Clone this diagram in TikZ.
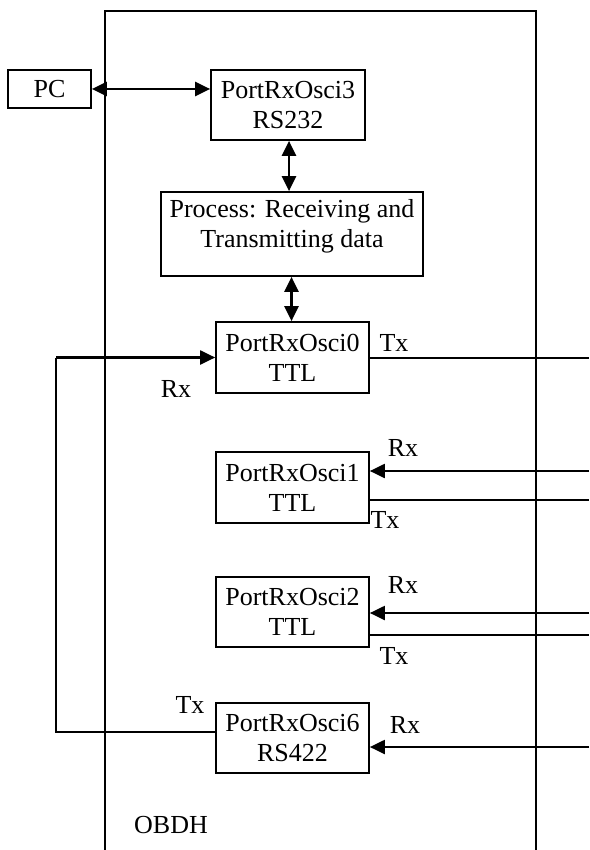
\documentclass[tikz,border=0pt]{standalone}
\usepackage{fontspec}
\setmainfont{Liberation Serif}
\usetikzlibrary{arrows.meta}
\begin{document}
\begin{tikzpicture}[x=1pt,y=-1pt,
  every node/.style={font=\fontsize{26}{30}\selectfont},
  box/.style={draw, line width=1.7pt, rectangle, inner sep=0pt, align=center},
  lbl/.style={inner sep=0pt},
  tip/.style={-{Triangle[length=15pt,width=14pt]}},
  bitip/.style={{Triangle[length=15pt,width=14pt]}-{Triangle[length=15pt,width=14pt]}},
  thick arrow/.style={line width=2.5pt},
  mid arrow/.style={line width=2.1pt},
  thin line/.style={line width=1.4pt}]
\useasboundingbox (0,0) rectangle (589,850);
% outer OBDH frame
\node[box, minimum width=431pt, minimum height=846pt, anchor=north west] (obdh) at (104,10) {};
\node[lbl] (obdhlbl) at (171,825) {OBDH};
% boxes
\node[box, minimum width=83pt, minimum height=38pt] (pc) at (49.5,89) {PC};
\node[box, minimum width=154pt, minimum height=70pt] (p3) at (288,105) {PortRxOsci3\\RS232};
\node[box, minimum width=262pt, minimum height=84pt] (proc) at (292,234) {};
\node[lbl, align=center] (proctext) at (292,226) {Process: Receiving and\\Transmitting data};
\node[box, minimum width=153pt, minimum height=71pt] (p0) at (292.5,357.5) {PortRxOsci0\\TTL};
\node[box, minimum width=153pt, minimum height=71pt] (p1) at (292.5,487.5) {PortRxOsci1\\TTL};
\node[box, minimum width=153pt, minimum height=70pt] (p2) at (292.5,612) {PortRxOsci2\\TTL};
\node[box, minimum width=153pt, minimum height=70pt] (p6) at (292.5,738) {PortRxOsci6\\RS422};
% right-edge coordinates
\coordinate (e0) at (589,358);
\coordinate (e1r) at (589,471);
\coordinate (e1t) at (589,500);
\coordinate (e2r) at (589,613);
\coordinate (e2t) at (589,635);
\coordinate (e6r) at (589,747);
\coordinate (lb) at (56,732);
\coordinate (lt) at (56,357.5);
% connectors
\draw[bitip, thick arrow] (pc.east) -- (p3.west |- pc.east);
\draw[bitip, thick arrow] (p3.south -| 289,0) -- (proc.north -| 289,0);
\draw[bitip, thick arrow] (proc.south -| 291.5,0) -- (p0.north -| 291.5,0);
\draw[thin line] (p6.west |- lb) -- (lb) -- (lt);
\draw[tip, mid arrow] (lt) -- (p0.west);
\draw[thin line] (p0.east |- e0) -- (e0);
\draw[tip, mid arrow] (e1r) -- (p1.east |- e1r);
\draw[thin line] (p1.east |- e1t) -- (e1t);
\draw[tip, mid arrow] (e2r) -- (p2.east |- e2r);
\draw[thin line] (p2.east |- e2t) -- (e2t);
\draw[tip, mid arrow] (e6r) -- (p6.east |- e6r);
% labels
\node[lbl] (tx0) at (394,343) {Tx};
\node[lbl] (rx0) at (176,389) {Rx};
\node[lbl] (rx1) at (403,448) {Rx};
\node[lbl] (tx1) at (385,520) {Tx};
\node[lbl] (rx2) at (403,585) {Rx};
\node[lbl] (tx2) at (394,656) {Tx};
\node[lbl] (rx6) at (405,725) {Rx};
\node[lbl] (tx6) at (190,705) {Tx};
\end{tikzpicture}
\end{document}
